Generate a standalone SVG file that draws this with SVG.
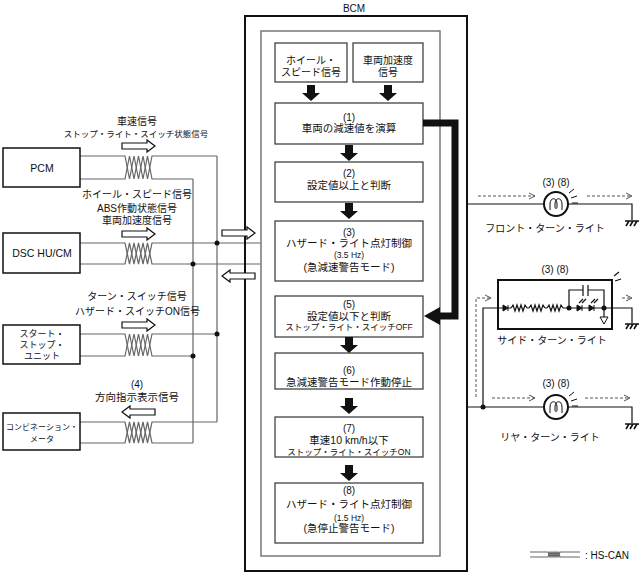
<svg xmlns="http://www.w3.org/2000/svg" width="642" height="573" viewBox="0 0 642 573">
<style>
text{font-family:"Liberation Sans","Noto Sans CJK JP",sans-serif;font-size:10px;fill:#111;text-anchor:middle}
.s{font-size:8.5px}
.l{font-size:10.5px}
.dev{fill:#fff;stroke:#111;stroke-width:1.5}
.proc{fill:#fff;stroke:#333;stroke-width:1.2}
.wire{fill:none;stroke:#666;stroke-width:1.2}
.dash{fill:none;stroke:#555;stroke-width:1;stroke-dasharray:3,2;marker-end:url(#ch)}
.blk{fill:none;stroke:#111;stroke-width:1.2}
.dot{fill:#111}
</style>
<defs>
<marker id="ch" markerWidth="8" markerHeight="8" refX="7" refY="4" orient="auto" markerUnits="userSpaceOnUse"><path d="M1,1 L7,4 L1,7" fill="none" stroke="#555" stroke-width="1"/></marker>
<path id="ar" d="M0,-3 H25 V-6 L33,0 L25,6 V3 H0 Z" fill="#fff" stroke="#111" stroke-width="1.2"/>
<path id="al" d="M33,-3 H8 V-6 L0,0 L8,6 V3 H33 Z" fill="#fff" stroke="#111" stroke-width="1.2"/>
<path id="da" d="M-4,0 H4 V8 H9 L0,16 L-9,8 H-4 Z" fill="#111"/>
<path id="gnd" d="M-7,0 H7 M-3,0 L-6,5 M1,0 L-2,5 M5,0 L2,5" fill="none" stroke="#111" stroke-width="1.6"/>
<g id="lamp">
<circle r="12" fill="#fff" stroke="#111" stroke-width="2"/>
<path d="M-6,6 V0 C-6,-7 1,-7 1,0 V3 C1,5 -1,5 -1,3 V0 C-1,-7 6,-7 6,0 V6" fill="none" stroke="#111" stroke-width="1"/>
<path d="M13,-11 L18,-15 M15,-6 L21,-8 M16,-1 L22,-1" fill="none" stroke="#111" stroke-width="1"/>
</g>
</defs>

<g id="connectors">
<!-- PCM -->
<path class="wire" d="M80,156 H125 L129.5,179 L134,156 L138.5,179 L143,156 L147.5,179 L152,156 H217"/>
<path class="wire" d="M80,179 H125 L129.5,156 L134,179 L138.5,156 L143,179 L147.5,156 L152,179 H193"/>
<!-- DSC -->
<path class="wire" d="M80,243 H125 L129.5,264 L134,243 L138.5,264 L143,243 L147.5,264 L152,243 H261"/>
<path class="wire" d="M80,264 H125 L129.5,243 L134,264 L138.5,243 L143,264 L147.5,243 L152,264 H261"/>
<!-- SSU -->
<path class="wire" d="M80,334 H125 L129.5,356 L134,334 L138.5,356 L143,334 L147.5,356 L152,334 H217"/>
<path class="wire" d="M80,356 H125 L129.5,334 L134,356 L138.5,334 L143,356 L147.5,334 L152,356 H193"/>
<!-- meter -->
<path class="wire" d="M80,422 H125 L129.5,443 L134,422 L138.5,443 L143,422 L147.5,443 L152,422 H217"/>
<path class="wire" d="M80,443 H125 L129.5,422 L134,443 L138.5,422 L143,443 L147.5,422 L152,443 H193"/>
<!-- buses -->
<path class="wire" d="M217,156 V422 M193,179 V443"/>
<circle class="dot" cx="217" cy="243" r="2.5"/>
<circle class="dot" cx="193" cy="264" r="2.5"/>
<circle class="dot" cx="217" cy="334" r="2.5"/>
<circle class="dot" cx="193" cy="356" r="2.5"/>
<!-- signal arrows -->
<use href="#ar" x="122" y="146"/>
<use href="#ar" x="122" y="234"/>
<use href="#ar" x="122" y="325"/>
<use href="#al" x="122" y="412"/>
<!-- right side wiring -->
<path class="blk" d="M467,204 H544 M568,204 H632 V220"/>
<path class="blk" d="M467,407 H544 M568,407 H632 V423"/>
<path class="blk" d="M483,407 V308 H503 M508,308 H511 M527,308 H529 M545,308 H547 M563,308 H577 M582,308 H589 M594,308 H632 V323"/>
<circle class="dot" cx="483" cy="407" r="2.5"/>
<use href="#gnd" x="632" y="221"/>
<use href="#gnd" x="632" y="324"/>
<use href="#gnd" x="632" y="424"/>
<!-- dashed current flow -->
<path class="dash" d="M478,196 H535"/>
<path class="dash" d="M587,196 H632"/>
<path class="dash" d="M476,397 V298 H491"/>
<path class="dash" d="M622,298 H632"/>
<path class="dash" d="M492,398 H535"/>
<path class="dash" d="M585,398 H630"/>
<!-- legend -->
<path class="wire" d="M530,552 H548 L550,557 L552,552 L554,557 L556,552 L558,557 L560,552 H580"/>
<path class="wire" d="M530,557 H548 L550,552 L552,557 L554,552 L556,557 L558,552 L560,557 H580"/>
</g>

<g id="PCM"><rect class="dev" x="3" y="148" width="77" height="39"/><text class="l" x="42" y="172">PCM</text>
<text x="137" y="125">車速信号</text><text class="s" x="136" y="137">ストップ・ライト・スイッチ状態信号</text></g>
<g id="DSC"><rect class="dev" x="3" y="233" width="77" height="40"/><text class="l" x="42" y="257">DSC HU/CM</text>
<text x="137" y="197.5">ホイール・スピード信号</text><text x="137" y="211.5">ABS作動状態信号</text><text x="137" y="224">車両加速度信号</text></g>
<g id="SSU"><rect class="dev" x="3" y="325" width="77" height="39"/>
<text font-size="9" x="42" y="336.5" style="font-size:9px">スタート・</text><text x="42" y="348" style="font-size:9px">ストップ・</text><text x="42" y="359" style="font-size:9px">ユニット</text>
<text x="137" y="299.5">ターン・スイッチ信号</text><text x="137.5" y="314.5">ハザード・スイッチON信号</text></g>
<g id="meter"><rect class="dev" x="3" y="413" width="77" height="37"/>
<text x="42" y="430" style="font-size:8px">コンビネーション・</text><text x="42" y="442" style="font-size:8px">メータ</text>
<text x="137" y="387.5">(4)</text><text class="l" x="137" y="400.5">方向指示表示信号</text></g>

<g id="BCM">
<text x="354" y="12">BCM</text>
<rect x="245" y="16" width="222" height="555" fill="none" stroke="#111" stroke-width="2"/>
<rect x="261" y="31" width="179" height="525" fill="none" stroke="#777" stroke-width="1.5"/>
<use href="#ar" x="222" y="233"/>
<use href="#al" x="222" y="276"/>
</g>
<g id="in-wheel"><rect class="proc" x="275" y="43" width="72" height="39"/><text x="311" y="63.5">ホイール・</text><text x="311" y="75.5">スピード信号</text></g>
<g id="in-accel"><rect class="proc" x="353" y="43" width="70" height="39"/><text x="388" y="63.5">車両加速度</text><text x="388" y="75.5">信号</text></g>
<g id="step1"><rect class="proc" x="275" y="103" width="148" height="41"/><text x="349" y="120.5">(1)</text><text class="l" x="349" y="132">車両の減速値を演算</text></g>
<g id="step2"><rect class="proc" x="275" y="162" width="148" height="40"/><text x="349" y="176.5">(2)</text><text class="l" x="349" y="188.5">設定値以上と判断</text></g>
<g id="step3"><rect class="proc" x="275" y="221" width="148" height="60"/><text x="349" y="235.5">(3)</text><text class="l" x="349" y="246.5">ハザード・ライト点灯制御</text><text class="s" x="349" y="258">(3.5 Hz)</text><text class="l" x="349" y="270.5">(急減速警告モード)</text></g>
<g id="step5"><rect class="proc" x="275" y="296" width="148" height="41"/><text x="349" y="307.5">(5)</text><text class="l" x="349" y="319.5">設定値以下と判断</text><text class="s" x="349" y="330">ストップ・ライト・スイッチOFF</text></g>
<g id="step6"><rect class="proc" x="275" y="353" width="148" height="36"/><text x="349" y="373.5">(6)</text><text class="l" x="349" y="385.5">急減速警告モード作動停止</text></g>
<g id="step7"><rect class="proc" x="275" y="417" width="148" height="40"/><text x="349" y="431.5">(7)</text><text class="l" x="349" y="443.5">車速10 km/h以下</text><text class="s" x="349" y="455">ストップ・ライト・スイッチON</text></g>
<g id="step8"><rect class="proc" x="275" y="483" width="148" height="60"/><text x="349" y="493.5">(8)</text><text class="l" x="349" y="507.5">ハザード・ライト点灯制御</text><text class="s" x="349" y="521">(1.5 Hz)</text><text class="l" x="349" y="531.5">(急停止警告モード)</text></g>

<g id="flow">
<use href="#da" x="311" y="85"/>
<use href="#da" x="388" y="85"/>
<use href="#da" x="349" y="145"/>
<use href="#da" x="349" y="203"/>
<use href="#da" x="349" y="337"/>
<use href="#da" x="349" y="398"/>
<use href="#da" x="349" y="465"/>
<path d="M423,123 H455 V316 H439" fill="none" stroke="#111" stroke-width="7"/>
<polygon points="440,307 440,325 424,316" fill="#111"/>
</g>

<g id="front-light"><use href="#lamp" x="556" y="204"/><text x="556" y="185.5">(3) (8)</text><text x="545" y="231.5">フロント・ターン・ライト</text></g>
<g id="side-light">
<rect x="498" y="280" width="114" height="49" fill="none" stroke="#111" stroke-width="2"/>
<path d="M503,305 L508,308 L503,311 Z M508,305 V311" fill="#111" stroke="#111" stroke-width="1"/>
<path class="blk" stroke-width="1" d="M511,308 L513,305 L515,311 L517,305 L519,311 L521,305 L523,311 L525,305 L527,308 M529,308 L531,305 L533,311 L535,305 L537,311 L539,305 L541,311 L543,305 L545,308 M547,308 L549,305 L551,311 L553,305 L555,311 L557,305 L559,311 L561,305 L563,308"/>
<path d="M577,305 L582,308 L577,311 Z M582,305 V311 M589,305 L594,308 L589,311 Z M594,305 V311" fill="#111" stroke="#111" stroke-width="1"/>
<path class="blk" stroke-width="0.8" d="M579,303 L583,299 M582,303 L586,299 M591,303 L595,299 M594,303 L598,299"/>
<path class="blk" d="M569,308 V290 H583 M583,285 V296 M588,285 V296 M588,290 H604 V317"/>
<path d="M600,317 H608 L604,324 Z" fill="#fff" stroke="#111" stroke-width="1"/>
<circle class="dot" cx="569" cy="308" r="2.5"/>
<circle class="dot" cx="604" cy="308" r="2.5"/>
<path class="blk" stroke-width="1" d="M614,276 L619,272 M615,281 L621,279"/>
<text x="555" y="272.5">(3) (8)</text><text x="552" y="343.5">サイド・ターン・ライト</text>
</g>
<g id="rear-light"><use href="#lamp" x="556" y="407"/><text x="556" y="386.5">(3) (8)</text><text x="550" y="440.5">リヤ・ターン・ライト</text></g>
<g id="legend"><text x="585" y="558.5" style="text-anchor:start">: HS-CAN</text></g>
</svg>
